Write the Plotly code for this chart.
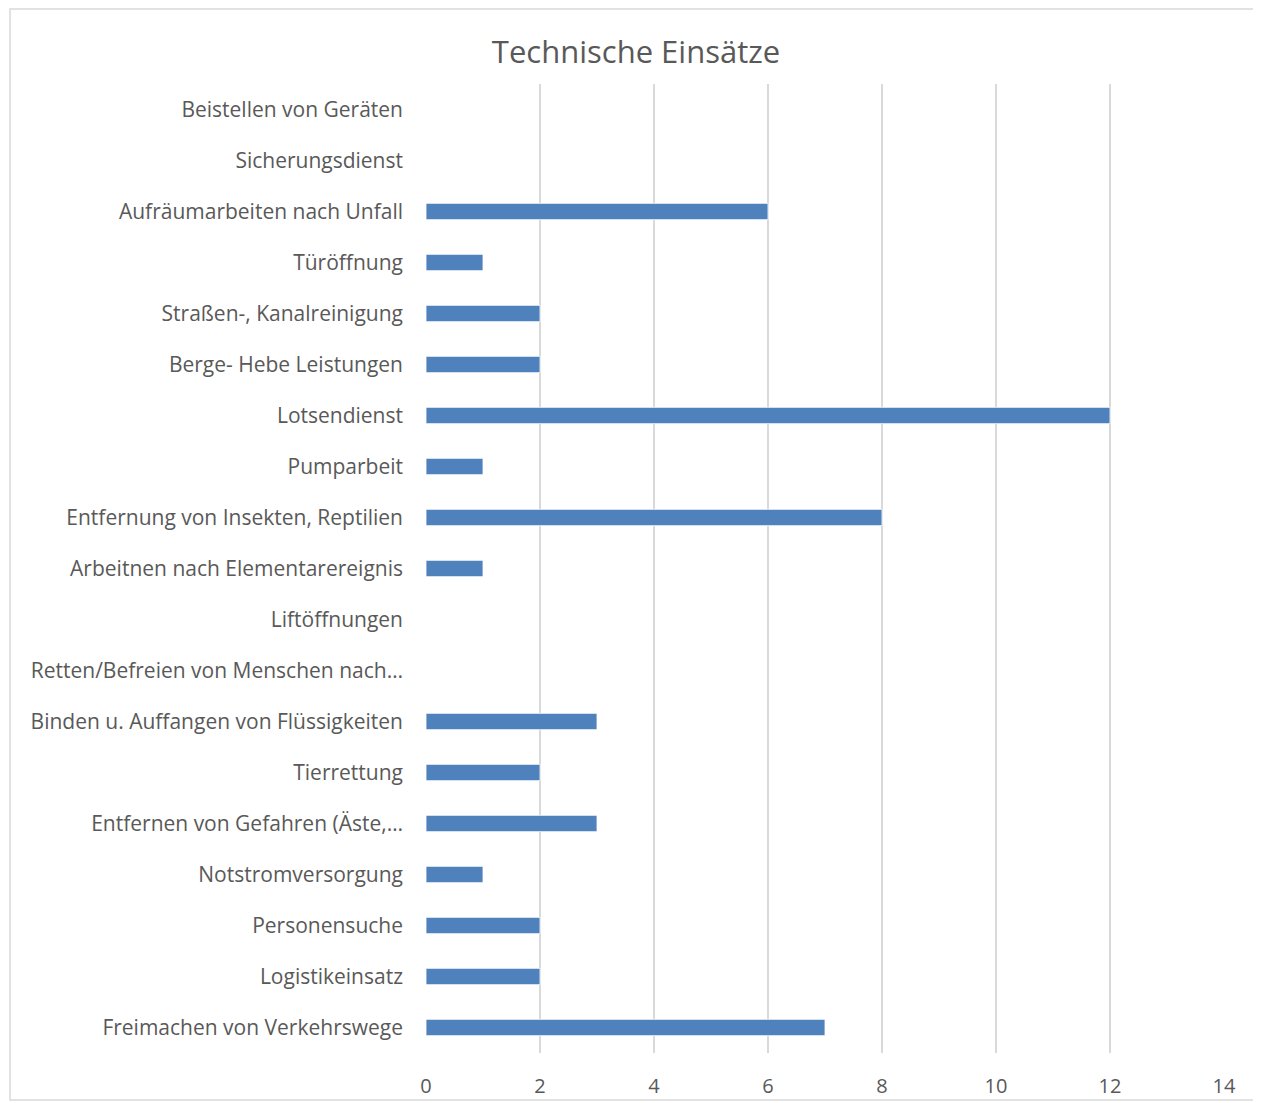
import plotly.graph_objects as go

categories = [
    "Freimachen von Verkehrswege",
    "Logistikeinsatz",
    "Personensuche",
    "Notstromversorgung",
    "Entfernen von Gefahren (Äste,…",
    "Tierrettung",
    "Binden u. Auffangen von Flüssigkeiten",
    "Retten/Befreien von Menschen nach…",
    "Liftöffnungen",
    "Arbeitnen nach Elementarereignis",
    "Entfernung von Insekten, Reptilien",
    "Pumparbeit",
    "Lotsendienst",
    "Berge- Hebe Leistungen",
    "Straßen-, Kanalreinigung",
    "Türöffnung",
    "Aufräumarbeiten nach Unfall",
    "Sicherungsdienst",
    "Beistellen von Geräten",
]
values = [7, 2, 2, 1, 3, 2, 3, 0, 0, 1, 8, 1, 12, 2, 2, 1, 6, 0, 0]
x_ticks = [0, 2, 4, 6, 8, 10, 12, 14]

# page body has an 8px margin; figure coordinates below are compensated
OFF = 8
W, H = 1261 - OFF, 1103 - OFF
L, R, T, B = 426 - OFF, 37, 84 - OFF, 50
pw, ph = W - L - R, H - T - B

FONT = "Open Sans, Lato, sans-serif"

fig = go.Figure(go.Bar(
    y=categories, x=values, orientation="h",
    marker=dict(color="#4F81BD", line=dict(color="#ffffff", width=0.8)),
))

def px_x(p):
    return (p - OFF - L) / pw

def px_y(p):
    return (H - B - (p - OFF)) / ph

fig.update_layout(
    width=W, height=H,
    margin=dict(l=L, r=R, t=T, b=B, autoexpand=False),
    paper_bgcolor="white", plot_bgcolor="white",
    bargap=0.68,
    showlegend=False,
    font=dict(family=FONT, color="#595959", size=20),
    title=dict(text="Technische Einsätze", x=(636 - OFF) / W, xref="container",
               xanchor="center", yref="container",
               y=1 - (52 - OFF) / H, yanchor="middle",
               font=dict(size=31, color="#595959", family=FONT)),
    xaxis=dict(range=[0, 14], tickvals=x_ticks, showgrid=True, gridcolor="#d9d9d9",
               gridwidth=1.5, zeroline=False, showline=False, ticks="",
               automargin=False,
               tickfont=dict(size=20, color="#595959"), ticklabelstandoff=19),
    yaxis=dict(categoryorder="array", categoryarray=categories, showgrid=False,
               zeroline=False, showline=False, ticks="", automargin=False,
               tickfont=dict(size=21, color="#595959"), ticklabelstandoff=22,
               range=[-0.5, len(categories) - 0.5]),
    shapes=[dict(type="rect", xref="paper", yref="paper",
                 x0=px_x(10), x1=px_x(1257), y0=px_y(1100), y1=px_y(9),
                 line=dict(color="#d9d9d9", width=1.5), fillcolor="rgba(0,0,0,0)",
                 layer="below")],
)

fig.write_html("out.html")
